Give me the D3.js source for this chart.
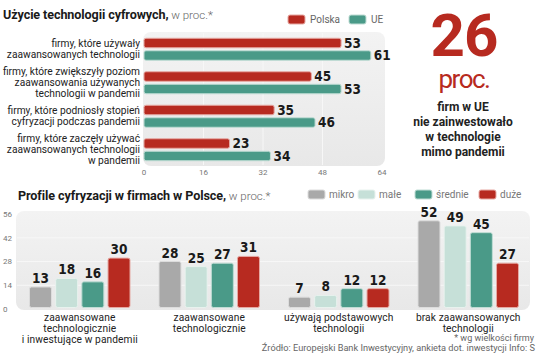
<!DOCTYPE html>
<html><head><meta charset="utf-8">
<script src="https://cdn.jsdelivr.net/npm/d3@7"></script>
<style>
body{margin:0;background:#fff;}
svg{display:block;font-family:Roboto,"Noto Sans",sans-serif;}
.num{font-family:"Liberation Sans Narrow","DejaVu Sans Condensed",Roboto,sans-serif;font-weight:bold;}
</style></head><body>
<svg id="c" width="536" height="360"></svg>
<script>
// ---- data: top chart ----
const topCategories = [
  ["firmy, które używały","zaawansowanych technologii"],
  ["firmy, które zwiększyły poziom","zaawansowania używanych","technologii w pandemii"],
  ["firmy, które podniosły stopień","cyfryzacji podczas pandemii"],
  ["firmy, które zaczęły używać","zaawansowanych technologii","w pandemii"]
];
const topSeries = ["Polska","UE"];
const polskaValues = [53,45,35,23];
const ueValues = [61,53,46,34];
const topTicks = [0,16,32,48,64];

// ---- data: bottom chart ----
const bottomCategories = [
  ["zaawansowane","technologicznie","i inwestujące w pandemii"],
  ["zaawansowane","technologicznie"],
  ["używają podstawowych","technologii"],
  ["brak zaawansowanych","technologii"]
];
const sizeSeries = ["mikro","małe","średnie","duże"];
const mikroValues = [13,28,7,52];
const maleValues = [18,25,8,49];
const srednieValues = [16,27,12,45];
const duzeValues = [30,31,12,27];
const bottomTicks = [0,14,28,42,56];

const RED="#b72a20", RED_S="#e6a9a3", TEAL="#4a9a88", TEAL_S="#bfdcd4",
      GRAY="#a9a9a9", GRAY_S="#dcdcdc", MINT="#c6e0d8", MINT_S="#e8f2ee";

const svg = d3.select("#c");
const defs = svg.append("defs");
const g1 = defs.append("linearGradient").attr("id","bg").attr("x1",0).attr("y1",0).attr("x2",0).attr("y2",1);
g1.append("stop").attr("offset","0%").attr("stop-color","#f3f3f3");
g1.append("stop").attr("offset","100%").attr("stop-color","#e8e8e8");

// ===== Top chart =====
svg.append("text").attr("x",3).attr("y",19)
  .call(t=>{
    t.append("tspan").attr("font-weight","bold").attr("font-size",12.6).attr("letter-spacing",-0.1).attr("fill","#1a1a1a").text("Użycie technologii cyfrowych,");
    t.append("tspan").attr("font-size",11.5).attr("fill","#666").attr("font-weight",300).text(" w proc.*");
  });

const x = d3.scaleLinear().domain([0,64]).range([144,382]);
const yTop = d3.scaleBand().domain(d3.range(topCategories.length)).range([32.5,166.5]);

svg.append("rect").attr("x",143).attr("y",32).attr("width",242).attr("height",134).attr("rx",8).attr("fill","url(#bg)");
svg.append("g").selectAll("line").data(topTicks.slice(1,-1)).join("line")
  .attr("x1",d=>x(d)).attr("x2",d=>x(d)).attr("y1",33).attr("y2",165)
  .attr("stroke","#f7f7f7").attr("stroke-width",1);

const topData = topCategories.map((c,i)=>({c,i,vals:[polskaValues[i],ueValues[i]]}));
const bh = 9.5;
const tg = svg.append("g").selectAll("g").data(topData).join("g")
  .attr("transform",d=>`translate(0,${yTop(d.i)+yTop.bandwidth()/2})`);
[0,1].forEach(s=>{
  tg.append("rect")
    .attr("x",x(0)).attr("y",s===0?-bh-1.5:1.5)
    .attr("width",d=>x(d.vals[s])-x(0)).attr("height",bh).attr("rx",2)
    .attr("fill",s===0?RED:TEAL).attr("stroke",s===0?RED_S:TEAL_S).attr("stroke-width",1);
  tg.append("text").attr("class","num")
    .attr("x",d=>x(d.vals[s])+3).attr("y",s===0?-bh/2-1.5:1.5+bh/2)
    .attr("dy","0.36em").attr("font-size",13.5).attr("fill","#1a1a1a")
    .text(d=>d.vals[s]);
});
tg.each(function(d){
  const n=d.c.length, lh=11;
  const t=d3.select(this).append("text").attr("text-anchor","end").attr("font-size",10.2)
    .attr("fill","#222");
  d.c.forEach((line,k)=>{
    t.append("tspan").attr("x",140).attr("y",(k-(n-1)/2)*lh).attr("dy","0.35em").text(line);
  });
});
svg.append("g").selectAll("text").data(topTicks).join("text")
  .attr("x",d=>x(d)).attr("y",175).attr("text-anchor","middle")
  .attr("font-size",8).attr("fill","#777").text(d=>d);

// top legend
const tl = svg.append("g").selectAll("g").data(topSeries).join("g")
  .attr("transform",(d,i)=>`translate(${i===0?288:349},15)`);
tl.append("rect").attr("width",17).attr("height",9).attr("rx",2)
  .attr("fill",(d,i)=>i===0?RED:TEAL).attr("stroke",(d,i)=>i===0?RED_S:TEAL_S);
tl.append("text").attr("x",22).attr("y",4.5).attr("dy","0.36em").attr("font-size",10).attr("fill","#666").text(d=>d);

// ===== Right callout =====
svg.append("text").attr("x",464).attr("y",56).attr("text-anchor","middle")
  .attr("font-size",60).attr("font-weight","bold").attr("fill",RED).attr("letter-spacing",-1).text("26");
svg.append("text").attr("x",464).attr("y",88).attr("text-anchor","middle")
  .attr("font-size",26).attr("fill",RED).attr("letter-spacing",-1.5).text("proc.");
["firm w UE","nie zainwestowało","w technologie","mimo pandemii"].forEach((l,i)=>{
  svg.append("text").attr("x",463).attr("y",111+i*15).attr("text-anchor","middle")
    .attr("font-size",12).attr("font-weight","bold").attr("fill","#222").text(l);
});

// ===== Bottom chart =====
svg.append("text").attr("x",18).attr("y",200)
  .call(t=>{
    t.append("tspan").attr("font-weight","bold").attr("font-size",12.6).attr("letter-spacing",-0.1).attr("fill","#1a1a1a").text("Profile cyfryzacji w firmach w Polsce,");
    t.append("tspan").attr("font-size",11.5).attr("fill","#666").attr("font-weight",300).text(" w proc.*");
  });
const sizeColors=[GRAY,MINT,TEAL,RED], sizeStrokes=[GRAY_S,MINT_S,TEAL_S,RED_S];
const legX=[308,358,415,479];
const bl = svg.append("g").selectAll("g").data(sizeSeries).join("g")
  .attr("transform",(d,i)=>`translate(${legX[i]},190)`);
bl.append("rect").attr("width",17).attr("height",9).attr("rx",2)
  .attr("fill",(d,i)=>sizeColors[i]).attr("stroke",(d,i)=>sizeStrokes[i]);
bl.append("text").attr("x",21).attr("y",4.5).attr("dy","0.36em").attr("font-size",10).attr("fill","#777").text(d=>d);

const x0 = d3.scaleBand().domain(d3.range(bottomCategories.length)).range([15,533]);
const x1 = d3.scaleBand().domain(sizeSeries).range([14.5,115]).paddingInner(0.16);
const y = d3.scaleLinear().domain([0,56]).range([309,214]);

svg.append("rect").attr("x",16).attr("y",211).attr("width",514).attr("height",99).attr("rx",8).attr("fill","url(#bg)");
svg.append("g").selectAll("line").data(bottomTicks.slice(1,-1)).join("line")
  .attr("x1",17).attr("x2",529).attr("y1",d=>y(d)).attr("y2",d=>y(d))
  .attr("stroke","#f7f7f7");
svg.append("g").selectAll("text").data(bottomTicks).join("text")
  .attr("x",3).attr("y",d=>y(d)).attr("dy","0.35em").attr("font-size",8).attr("fill","#777").text(d=>d);

const seriesVals=[mikroValues,maleValues,srednieValues,duzeValues];
const bg = svg.append("g").selectAll("g").data(bottomCategories.map((c,i)=>({c,i}))).join("g")
  .attr("transform",d=>`translate(${x0(d.i)},0)`);
bg.selectAll("rect").data(d=>sizeSeries.map((s,k)=>({s,k,v:seriesVals[k][d.i]}))).join("rect")
  .attr("x",d=>x1(d.s)).attr("width",x1.bandwidth())
  .attr("y",d=>y(d.v)).attr("height",d=>y(0)-1.5-y(d.v)).attr("rx",2)
  .attr("fill",d=>sizeColors[d.k]).attr("stroke",d=>sizeStrokes[d.k]).attr("stroke-width",1);
bg.selectAll("text.num").data(d=>sizeSeries.map((s,k)=>({s,k,v:seriesVals[k][d.i]}))).join("text")
  .attr("class","num").attr("x",d=>x1(d.s)+x1.bandwidth()/2).attr("y",d=>y(d.v)-4)
  .attr("text-anchor","middle").attr("font-size",13.5).attr("fill","#1a1a1a").text(d=>d.v);
bg.each(function(d){
  const t=d3.select(this).append("text").attr("text-anchor","middle").attr("font-size",10.2)
    .attr("letter-spacing",0.1).attr("fill","#222");
  d.c.forEach((line,k)=>t.append("tspan").attr("x",x0.bandwidth()/2).attr("y",321+k*11).text(line));
});

// footnotes
svg.append("text").attr("x",534).attr("y",341).attr("text-anchor","end").attr("font-size",9).attr("fill","#666").text("* wg wielkości firmy");
svg.append("text").attr("x",535).attr("y",351).attr("text-anchor","end").attr("font-size",9.2).attr("fill","#666").text("Źródło: Europejski Bank Inwestycyjny, ankieta dot. inwestycji  Info: S");
</script>
</body></html>
